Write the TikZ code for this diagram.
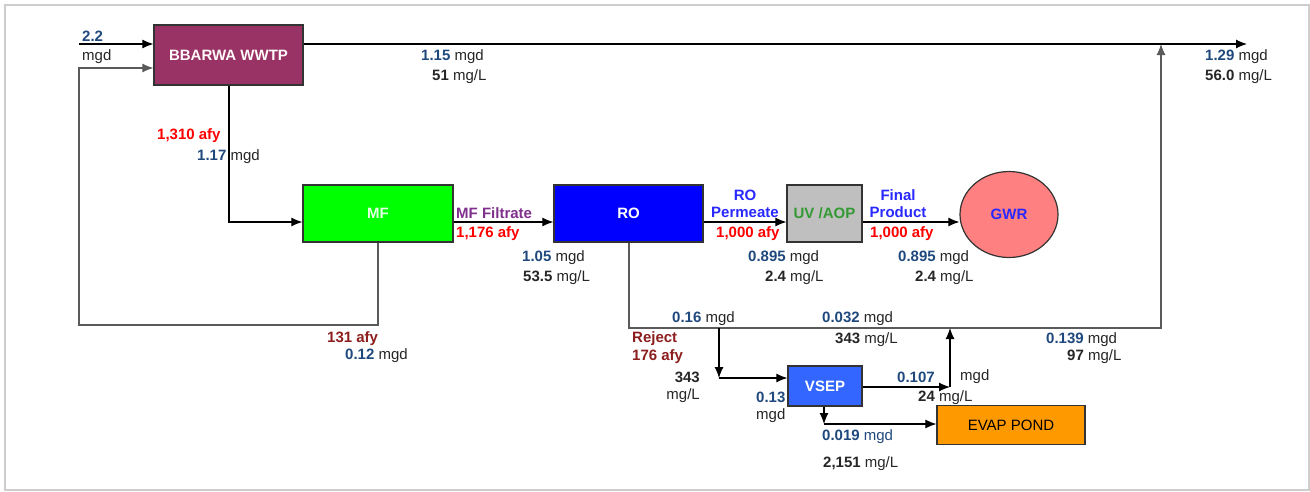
\documentclass[tikz,border=0pt]{standalone}
\usepackage{fontspec}
\setmainfont{Liberation Sans}
\usetikzlibrary{arrows.meta,shapes.geometric}

\definecolor{plum}{RGB}{153,51,102}
\definecolor{numblue}{RGB}{31,73,125}
\definecolor{afyred}{RGB}{255,0,0}
\definecolor{rejred}{RGB}{140,30,30}
\definecolor{filtpurple}{RGB}{128,48,140}
\definecolor{labblue}{RGB}{40,40,255}
\definecolor{uvgreen}{RGB}{51,153,51}
\definecolor{gwrpink}{RGB}{255,128,128}
\definecolor{vsepblue}{RGB}{51,102,255}
\definecolor{pondorange}{RGB}{255,153,0}
\definecolor{linegray}{RGB}{90,90,90}
\definecolor{framegray}{RGB}{205,205,205}

\newcommand{\mgd}[1]{\textbf{\color{numblue}#1} mgd}
\newcommand{\mgl}[1]{\textbf{#1} mg/L}

\begin{document}
\begin{tikzpicture}[x=1pt,y=-1pt,
  every node/.style={font=\fontsize{15}{17}\selectfont},
  lab/.style={anchor=west,inner sep=0pt,text=black!85},
  unitbox/.style={draw=black!80,line width=1.2pt,font=\fontsize{15}{17}\selectfont\bfseries},
  flow/.style={line width=1.1pt,-{Latex[length=11pt,width=9pt]}},
  back/.style={line width=1.1pt,draw=linegray}]
\useasboundingbox (0,0) rectangle (1310,491);
\draw[framegray,line width=1.5pt] (5,5) rectangle (1309,490);

\node[unitbox,fill=plum,text=white!90!pink,minimum width=149pt,minimum height=60pt] (wwtp) at (228.5,55) {BBARWA WWTP};
\node[unitbox,fill=green,text=white!90!green,minimum width=150pt,minimum height=57pt] (mf) at (378,213.5) {MF};
\node[unitbox,fill=blue,text=white,minimum width=149pt,minimum height=57pt] (ro) at (628.5,213.5) {RO};
\node[unitbox,fill=black!25,text=uvgreen,minimum width=75pt,minimum height=57pt] (uv) at (824.5,213.5) {UV /AOP};
\node[unitbox,ellipse,fill=gwrpink,text=labblue,minimum width=98pt,minimum height=86pt] (gwr) at (1009,214.5) {GWR};
\node[unitbox,fill=vsepblue,text=white,minimum width=74pt,minimum height=40pt] (vsep) at (825,386) {VSEP};
\node[unitbox,fill=pondorange,text=black,font=\fontsize{15}{17}\selectfont,minimum width=148pt,minimum height=39pt] (pond) at (1011,425) {EVAP POND};

\coordinate (in1) at (79,44);
\coordinate (in2) at (79,68);
\coordinate (out) at (1247,44);
\coordinate (mix) at (1161,44);
\coordinate (drop) at (229,222);
\coordinate (rc) at (378,325);
\coordinate (rcL) at (79,325);
\coordinate (rj) at (629,328);
\coordinate (rjR) at (1161,328);
\coordinate (sp) at (719,328);
\coordinate (sp2) at (719,378);
\coordinate (vo) at (950,387);
\coordinate (vj) at (950,328);
\coordinate (vb) at (824,424);

\draw[flow] (in1) -- (in1 -| wwtp.west);
\draw[flow] (wwtp.east |- out) -- (out);
\draw[flow] (drop |- wwtp.south) -- (drop) -- (drop -| mf.west);
\draw[back,flow] (rc |- mf.south) -- (rc) -- (rcL) -- (in2) -- (in2 -| wwtp.west);
\draw[flow] (mf.east |- drop) -- (ro.west |- drop);
\draw[flow] (ro.east |- drop) -- (uv.west |- drop);
\draw[flow] (uv.east |- drop) -- (gwr.west |- drop);
\draw[back,flow] (rj |- ro.south) -- (rj) -- (rjR) -- (mix);
\draw[flow] (sp) -- (sp2);
\draw[flow] (sp2) -- (sp2 -| vsep.west);
\draw[flow] (vsep.east |- vo) -- (vo);
\draw[flow] (vo) -- (vj);
\draw[flow] (vb |- vsep.south) -- (vb);
\draw[flow] (vb) -- (vb -| pond.west);

\node[lab] (n22) at (82,36) {\textbf{\color{numblue}2.2}};
\node[lab] (n22u) at (82,57) {mgd};
\node[lab] (f1) at (421,57) {\mgd{1.15}};
\node[lab] (c1) at (432,77) {\mgl{51}};
\node[lab] (f2) at (1205,57) {\mgd{1.29}};
\node[lab] (c2) at (1205,77) {\mgl{56.0}};
\node[lab,text=afyred,font=\fontsize{15}{17}\selectfont\bfseries] (a1) at (157,136) {1,310 afy};
\node[lab] (f3) at (197,157) {\mgd{1.17}};
\node[lab,text=filtpurple,font=\fontsize{15}{17}\selectfont\bfseries] (mft) at (456,213) {MF Filtrate};
\node[lab,text=afyred,font=\fontsize{15}{17}\selectfont\bfseries] (a2) at (456,234) {1,176 afy};
\node[lab] (f4) at (522,258) {\mgd{1.05}};
\node[lab] (c4) at (523,278) {\mgl{53.5}};
\node[inner sep=0pt,align=center,text=labblue,font=\fontsize{15}{17}\selectfont\bfseries] (rop) at (745,204) {RO\\Permeate};
\node[lab,text=afyred,font=\fontsize{15}{17}\selectfont\bfseries] (a3) at (716,234) {1,000 afy};
\node[lab] (f5) at (748,258) {\mgd{0.895}};
\node[lab] (c5) at (765,278) {\mgl{2.4}};
\node[inner sep=0pt,align=center,text=labblue,font=\fontsize{15}{17}\selectfont\bfseries] (fp) at (898,204) {Final\\Product};
\node[lab,text=afyred,font=\fontsize{15}{17}\selectfont\bfseries] (a4) at (870,234) {1,000 afy};
\node[lab] (f6) at (898,258) {\mgd{0.895}};
\node[lab] (c6) at (915,278) {\mgl{2.4}};
\node[lab,text=rejred,font=\fontsize{15}{17}\selectfont\bfseries] (a5) at (327,339) {131 afy};
\node[lab] (f7) at (345,356) {\mgd{0.12}};
\node[lab] (f8) at (672,319) {\mgd{0.16}};
\node[lab,text=rejred,font=\fontsize{15}{17}\selectfont\bfseries] (rej) at (632,339) {Reject};
\node[lab,text=rejred,font=\fontsize{15}{17}\selectfont\bfseries] (a6) at (632,357) {176 afy};
\node[lab] (f9) at (822,319) {\mgd{0.032}};
\node[lab] (c9) at (835,340) {\mgl{343}};
\node[lab] (f10) at (1046,340) {\mgd{0.139}};
\node[lab] (c10) at (1067,357) {\mgl{97}};
\node[inner sep=0pt,anchor=east,align=right,text=black!85] (c11) at (700,387) {\textbf{343}\\mg/L};
\node[inner sep=0pt,anchor=west,align=left,text=black!85] (f11) at (756,407) {\textbf{\color{numblue}0.13}\\mgd};
\node[lab] (f12) at (897,377) {\textbf{\color{numblue}0.107}};
\node[lab] (f12u) at (960,377) {mgd};
\node[lab] (c12) at (918,398) {\mgl{24}};
\node[lab,text=numblue] (f13) at (822,437) {\textbf{0.019} mgd};
\node[lab] (c13) at (823,464) {\mgl{2,151}};
\end{tikzpicture}
\end{document}
